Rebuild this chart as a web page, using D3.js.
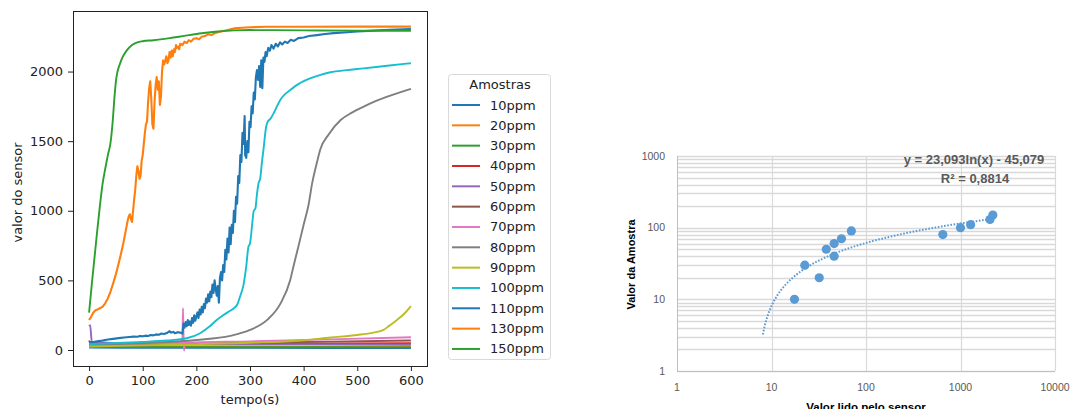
<!DOCTYPE html>
<html>
<head>
<meta charset="utf-8">
<script src="https://cdn.jsdelivr.net/npm/d3@7"></script>
<style>
  body { margin: 0; background: #fff; }
  svg { display: block; }
</style>
</head>
<body>
<svg id="svg-main" width="1070" height="409"></svg>
<script>
// ---- left chart: sensor readings over time ----
const sampleNames = ["10ppm", "20ppm", "30ppm", "40ppm", "50ppm", "60ppm", "70ppm",
                     "80ppm", "90ppm", "100ppm", "110ppm", "130ppm", "150ppm"];

const s10 = [[0,18],[100,16],[300,15],[600,14]];
const s20 = [[0,30],[200,27],[400,26],[600,25]];
const s30 = [[0,22],[300,20],[600,19]];
const s40 = [[0,68],[3,48],[100,46],[300,47],[600,48]];
const s50 = [[0,170],[2,178],[5,60],[100,45],[300,42],[600,38]];
const s60 = [[0,40],[150,45],[300,52],[450,60],[600,68]];
const s70 = [[0,42],[100,46],[174,50],[175,300],[176,120],[177,-5],[178,52],[300,62],[450,76],[600,92]];
const s80 = [[0,35],[100,50],[200,72],[263,101],[300,144],[332,216],[357,335],[375,503],[381,600],
             [390,740],[400,900],[409,1040],[416,1200],[425,1350],[431,1440],[447,1550],[469,1652],
             [490,1705],[512,1748],[534,1787],[556,1820],[578,1848],[600,1875]];
const s90 = [[0,25],[100,33],[200,42],[300,52],[400,70],[450,90],[500,108],[530,125],[549,144],
             [560,175],[574,215],[588,262],[600,315]];
const s100 = [[0,42],[50,50],[100,58],[145,68],[182,84],[207,120],[225,170],[238,216],[250,250],
              [263,282],[270,300],[276,325],[282,390],[288,470],[293,600],[297,740],[300,765],
              [304,900],[307,1000],[310,1015],[313,1120],[316,1200],[319,1230],[322,1340],[325,1436],
              [330,1600],[333,1640],[338,1660],[344,1700],[350,1748],[357,1800],[366,1840],[375,1868],
              [390,1910],[412,1951],[430,1975],[450,1995],[480,2010],[512,2023],[556,2042],[600,2060]];
const s110 = [[0,60],[3,55],[8,58],[15,62],[25,68],[35,75],[45,80],[55,85],[65,90],[75,93],[83,96],
              [90,95],[95,100],[100,98],[105,103],[110,101],[115,108],[120,105],[125,112],[130,110],
              [135,118],[140,115],[145,122],[150,135],[153,125],[157,130],[160,120],[165,128],[170,125],
              [174,118],[176,190],[178,160],[180,200],[182,170],[184,215],[186,180],[188,205],[190,175],
              [192,230],[194,195],[196,250],[198,210],[200,240],[202,270],[204,230],[206,290],[208,255],
              [210,310],[212,270],[214,330],[216,300],[218,370],[220,340],[222,400],[224,350],[226,420],
              [228,380],[230,470],[232,410],[234,500],[236,440],[238,390],[240,460],[242,340],[244,520],
              [246,560],[248,500],[250,610],[252,560],[254,720],[256,650],[258,800],[260,700],[262,880],
              [264,760],[266,900],[268,840],[270,1000],[272,920],[274,1100],[276,1050],[278,1250],
              [280,1200],[282,1400],[284,1350],[286,1560],[288,1480],[290,1680],[291,1400],[293,1380],
              [295,1500],[297,1420],[299,1640],[301,1600],[303,1750],[305,1700],[307,1850],[309,1800],
              [311,1960],[313,2010],[315,1940],[317,2040],[319,1890],[321,2080],[323,1880],[325,2100],
              [327,2070],[329,2140],[331,2110],[334,2170],[337,2150],[340,2190],[344,2165],[348,2200],
              [352,2180],[356,2210],[360,2195],[365,2215],[370,2205],[376,2228],[382,2220],[390,2240],
              [400,2245],[410,2255],[425,2262],[440,2270],[456,2276],[481,2282],[500,2288],[531,2294],
              [560,2300],[600,2305]];
const s130 = [[0,215],[4,240],[8,270],[12,285],[16,292],[20,300],[25,310],[30,335],[35,370],[40,420],
              [45,480],[50,545],[55,620],[60,700],[64,770],[68,850],[72,930],[74,960],[76,975],[78,940],
              [80,920],[82,1000],[84,1080],[86,1150],[88,1250],[90,1320],[92,1290],[94,1230],[96,1250],
              [98,1360],[100,1400],[102,1480],[104,1560],[106,1620],[108,1640],[110,1780],[112,1880],
              [114,1930],[116,1800],[118,1620],[120,1590],[122,1780],[124,1900],[126,1960],[128,1870],
              [130,1930],[132,1760],[134,1820],[136,2000],[138,2080],[140,2050],[142,2080],[144,2110],
              [146,2060],[148,2080],[150,2140],[152,2100],[154,2150],[156,2110],[158,2160],[160,2140],
              [162,2190],[164,2170],[166,2180],[168,2160],[170,2200],[174,2190],[178,2215],[182,2205],
              [186,2225],[190,2215],[195,2235],[200,2240],[205,2232],[210,2250],[216,2255],[222,2268],
              [228,2262],[234,2275],[240,2282],[250,2292],[260,2300],[270,2310],[285,2315],[300,2318],
              [330,2322],[400,2322],[500,2323],[600,2323]];
const s150 = [[0,268],[5,470],[10,660],[15,850],[20,1030],[25,1190],[30,1300],[35,1400],[40,1490],
              [44,1640],[47,1800],[50,1930],[53,2000],[57,2050],[62,2100],[70,2150],[80,2190],[90,2210],
              [100,2218],[120,2225],[150,2240],[180,2258],[210,2275],[240,2288],[270,2296],[300,2298],
              [400,2296],[500,2294],[600,2293]];

const seriesList = [s10, s20, s30, s40, s50, s60, s70, s80, s90, s100, s110, s130, s150];
const noisySeries = ["110ppm", "130ppm"];
const timeTicks = [0, 100, 200, 300, 400, 500, 600];
const valueTicks = [0, 500, 1000, 1500, 2000];

// ---- right chart: sample value vs sensor reading ----
const sensorRead = [17.5, 32, 22.5, 46, 38, 46, 55, 650, 70, 1000, 1280, 2050, 2200];
const sampleValue = [10, 20, 30, 40, 50, 60, 70, 80, 90, 100, 110, 130, 150];
const trendA = 23.093, trendB = -45.079;
const trendRange = [8.1, 2200];
const logTicks = [1, 10, 100, 1000, 10000];
const eqLabel = "y = 23,093ln(x) - 45,079";
const r2Label = "R² = 0,8814";

const tab10 = ["#1f77b4", "#ff7f0e", "#2ca02c", "#d62728", "#9467bd", "#8c564b",
               "#e377c2", "#7f7f7f", "#bcbd22", "#17becf"];

var Dims = {
    Left: { X: 73, Y: 11, Width: 354, Height: 355 },
    Right: { X: 677, Y: 156, Width: 378, Height: 215 },
    Legend: { X: 448, Y: 74, Width: 102, Height: 285 }
};

var svg = d3.select("#svg-main");

drawLeftChart();
drawLegend();
drawRightChart();

function drawLeftChart() {
    var D = Dims.Left;
    var x = d3.scaleLinear().domain([-30, 630]).range([D.X, D.X + D.Width]);
    var y = d3.scaleLinear().domain([-115, 2435]).range([D.Y + D.Height, D.Y]);

    var grp = svg.append("g").attr("class", "left-chart");

    grp.append("defs").append("clipPath").attr("id", "left-clip")
        .append("rect")
        .attr("x", D.X).attr("y", D.Y)
        .attr("width", D.Width).attr("height", D.Height);

    var line = d3.line().x(d => x(d[0])).y(d => y(d[1]));
    var lines = grp.append("g").attr("clip-path", "url(#left-clip)");

    seriesList.forEach(function (s, i) {
        var noisy = noisySeries.indexOf(sampleNames[i]) >= 0;
        lines.append("path")
            .datum(s)
            .attr("fill", "none")
            .attr("stroke", tab10[i % 10])
            .attr("stroke-width", noisy ? 2.1 : 1.9)
            .attr("stroke-linejoin", "round")
            .attr("d", line.curve(noisy ? d3.curveLinear : d3.curveMonotoneX));
    });

    var xAxis = grp.append("g")
        .attr("transform", `translate(0,${D.Y + D.Height})`)
        .call(d3.axisBottom(x).tickValues(timeTicks).tickFormat(d3.format("d"))
            .tickSize(5).tickPadding(5).tickSizeOuter(0));
    var yAxis = grp.append("g")
        .attr("transform", `translate(${D.X},0)`)
        .call(d3.axisLeft(y).tickValues(valueTicks).tickFormat(d3.format("d"))
            .tickSize(5).tickPadding(5).tickSizeOuter(0));

    [xAxis, yAxis].forEach(function (a) {
        a.select(".domain").remove();
        a.selectAll("line").attr("stroke", "#222");
        a.selectAll("text")
            .attr("font-family", "DejaVu Sans")
            .attr("font-size", "13px")
            .attr("fill", "#222");
    });

    grp.append("rect")
        .attr("x", D.X + 0.5).attr("y", D.Y + 0.5)
        .attr("width", D.Width).attr("height", D.Height)
        .attr("fill", "none").attr("stroke", "#222").attr("stroke-width", 1);

    grp.append("text")
        .attr("x", x(300)).attr("y", 404)
        .attr("text-anchor", "middle")
        .attr("font-family", "DejaVu Sans").attr("font-size", "13px").attr("fill", "#222")
        .text("tempo(s)");

    grp.append("text")
        .attr("transform", `translate(22,${D.Y + D.Height / 2 + 4}) rotate(-90)`)
        .attr("text-anchor", "middle")
        .attr("font-family", "DejaVu Sans").attr("font-size", "13px").attr("fill", "#222")
        .text("valor do sensor");
}

function drawLegend() {
    var L = Dims.Legend;
    var grp = svg.append("g").attr("transform", `translate(${L.X},${L.Y})`);

    grp.append("rect")
        .attr("x", 0.5).attr("y", 0.5)
        .attr("width", L.Width).attr("height", L.Height)
        .attr("rx", 3)
        .attr("fill", "#fff").attr("stroke", "#d9d9d9");

    grp.append("text")
        .attr("x", L.Width / 2 + 1).attr("y", 15)
        .attr("text-anchor", "middle")
        .attr("font-family", "DejaVu Sans").attr("font-size", "13px").attr("fill", "#222")
        .text("Amostras");

    var rowY = d3.scalePoint().domain(sampleNames).range([31, 31 + 20.33 * 12]);

    var rows = grp.selectAll("g.legend-row")
        .data(sampleNames)
        .enter()
        .append("g")
        .attr("class", "legend-row")
        .attr("transform", d => `translate(0,${rowY(d)})`);

    rows.append("line")
        .attr("x1", 4).attr("x2", 32)
        .attr("stroke", (d, i) => tab10[i % 10])
        .attr("stroke-width", 2);

    rows.append("text")
        .attr("x", 42).attr("y", 4.5)
        .attr("font-family", "DejaVu Sans").attr("font-size", "13px").attr("fill", "#222")
        .text(d => d);
}

function drawRightChart() {
    var D = Dims.Right;
    var x = d3.scaleLog().domain([1, 10000]).range([D.X, D.X + D.Width]);
    var y = d3.scaleLog().domain([1, 1000]).range([D.Y + D.Height, D.Y]);

    var grp = svg.append("g").attr("class", "right-chart");

    // horizontal gridlines, major and minor
    grp.append("g").selectAll("line")
        .data(y.ticks())
        .enter()
        .append("line")
        .attr("x1", D.X).attr("x2", D.X + D.Width)
        .attr("y1", d => Math.round(y(d)) + 0.5).attr("y2", d => Math.round(y(d)) + 0.5)
        .attr("stroke", "#d9d9d9").attr("stroke-width", 1.6);

    // vertical gridlines at decades
    grp.append("g").selectAll("line")
        .data(logTicks.slice(1))
        .enter()
        .append("line")
        .attr("x1", d => Math.round(x(d)) + 0.5).attr("x2", d => Math.round(x(d)) + 0.5)
        .attr("y1", D.Y).attr("y2", D.Y + D.Height)
        .attr("stroke", "#d9d9d9").attr("stroke-width", 1.2);

    // axis lines
    grp.append("line")
        .attr("x1", D.X + 0.5).attr("x2", D.X + 0.5)
        .attr("y1", D.Y).attr("y2", D.Y + D.Height)
        .attr("stroke", "#bfbfbf");
    grp.append("line")
        .attr("x1", D.X).attr("x2", D.X + D.Width)
        .attr("y1", D.Y + D.Height + 0.5).attr("y2", D.Y + D.Height + 0.5)
        .attr("stroke", "#bfbfbf");

    // trendline from the displayed equation
    var trendPts = d3.range(Math.log(trendRange[0]), Math.log(trendRange[1]) + 0.001, 0.05)
        .map(lx => [Math.exp(lx), trendA * lx + trendB]);
    grp.append("path")
        .datum(trendPts)
        .attr("fill", "none")
        .attr("stroke", "#5b9bd5")
        .attr("stroke-width", 2)
        .attr("stroke-dasharray", "1.6,1.6")
        .attr("d", d3.line().x(d => x(d[0])).y(d => y(d[1])));

    // points
    grp.append("g").selectAll("circle")
        .data(sensorRead.map((v, i) => [v, sampleValue[i]]))
        .enter()
        .append("circle")
        .attr("cx", d => x(d[0])).attr("cy", d => y(d[1]))
        .attr("r", 4.6)
        .attr("fill", "#5b9bd5");

    // tick labels
    grp.append("g").selectAll("text")
        .data(logTicks.slice(0, 4))
        .enter()
        .append("text")
        .attr("x", D.X - 12).attr("y", d => y(d) + 3.5)
        .attr("text-anchor", "end")
        .attr("font-family", "Liberation Sans").attr("font-size", "10.5px").attr("fill", "#595959")
        .text(d => d);

    grp.append("g").selectAll("text")
        .data(logTicks)
        .enter()
        .append("text")
        .attr("x", d => x(d)).attr("y", D.Y + D.Height + 20)
        .attr("text-anchor", "middle")
        .attr("font-family", "Liberation Sans").attr("font-size", "10.5px").attr("fill", "#595959")
        .text(d => d);

    // equation labels
    grp.append("text")
        .attr("x", 974).attr("y", 164)
        .attr("text-anchor", "middle")
        .attr("font-family", "Liberation Sans").attr("font-weight", "bold")
        .attr("font-size", "13px").attr("fill", "#595959")
        .text(eqLabel);
    grp.append("text")
        .attr("x", 975).attr("y", 183)
        .attr("text-anchor", "middle")
        .attr("font-family", "Liberation Sans").attr("font-weight", "bold")
        .attr("font-size", "13px").attr("fill", "#595959")
        .text(r2Label);

    // axis titles
    grp.append("text")
        .attr("transform", `translate(635,${D.Y + D.Height / 2 + 1}) rotate(-90)`)
        .attr("text-anchor", "middle")
        .attr("font-family", "Liberation Sans").attr("font-weight", "bold")
        .attr("font-size", "11px").attr("fill", "#000")
        .text("Valor da Amostra");
    grp.append("text")
        .attr("x", x(100)).attr("y", 411)
        .attr("text-anchor", "middle")
        .attr("font-family", "Liberation Sans").attr("font-weight", "bold")
        .attr("font-size", "11.5px").attr("fill", "#000")
        .text("Valor lido pelo sensor");
}
</script>
</body>
</html>
